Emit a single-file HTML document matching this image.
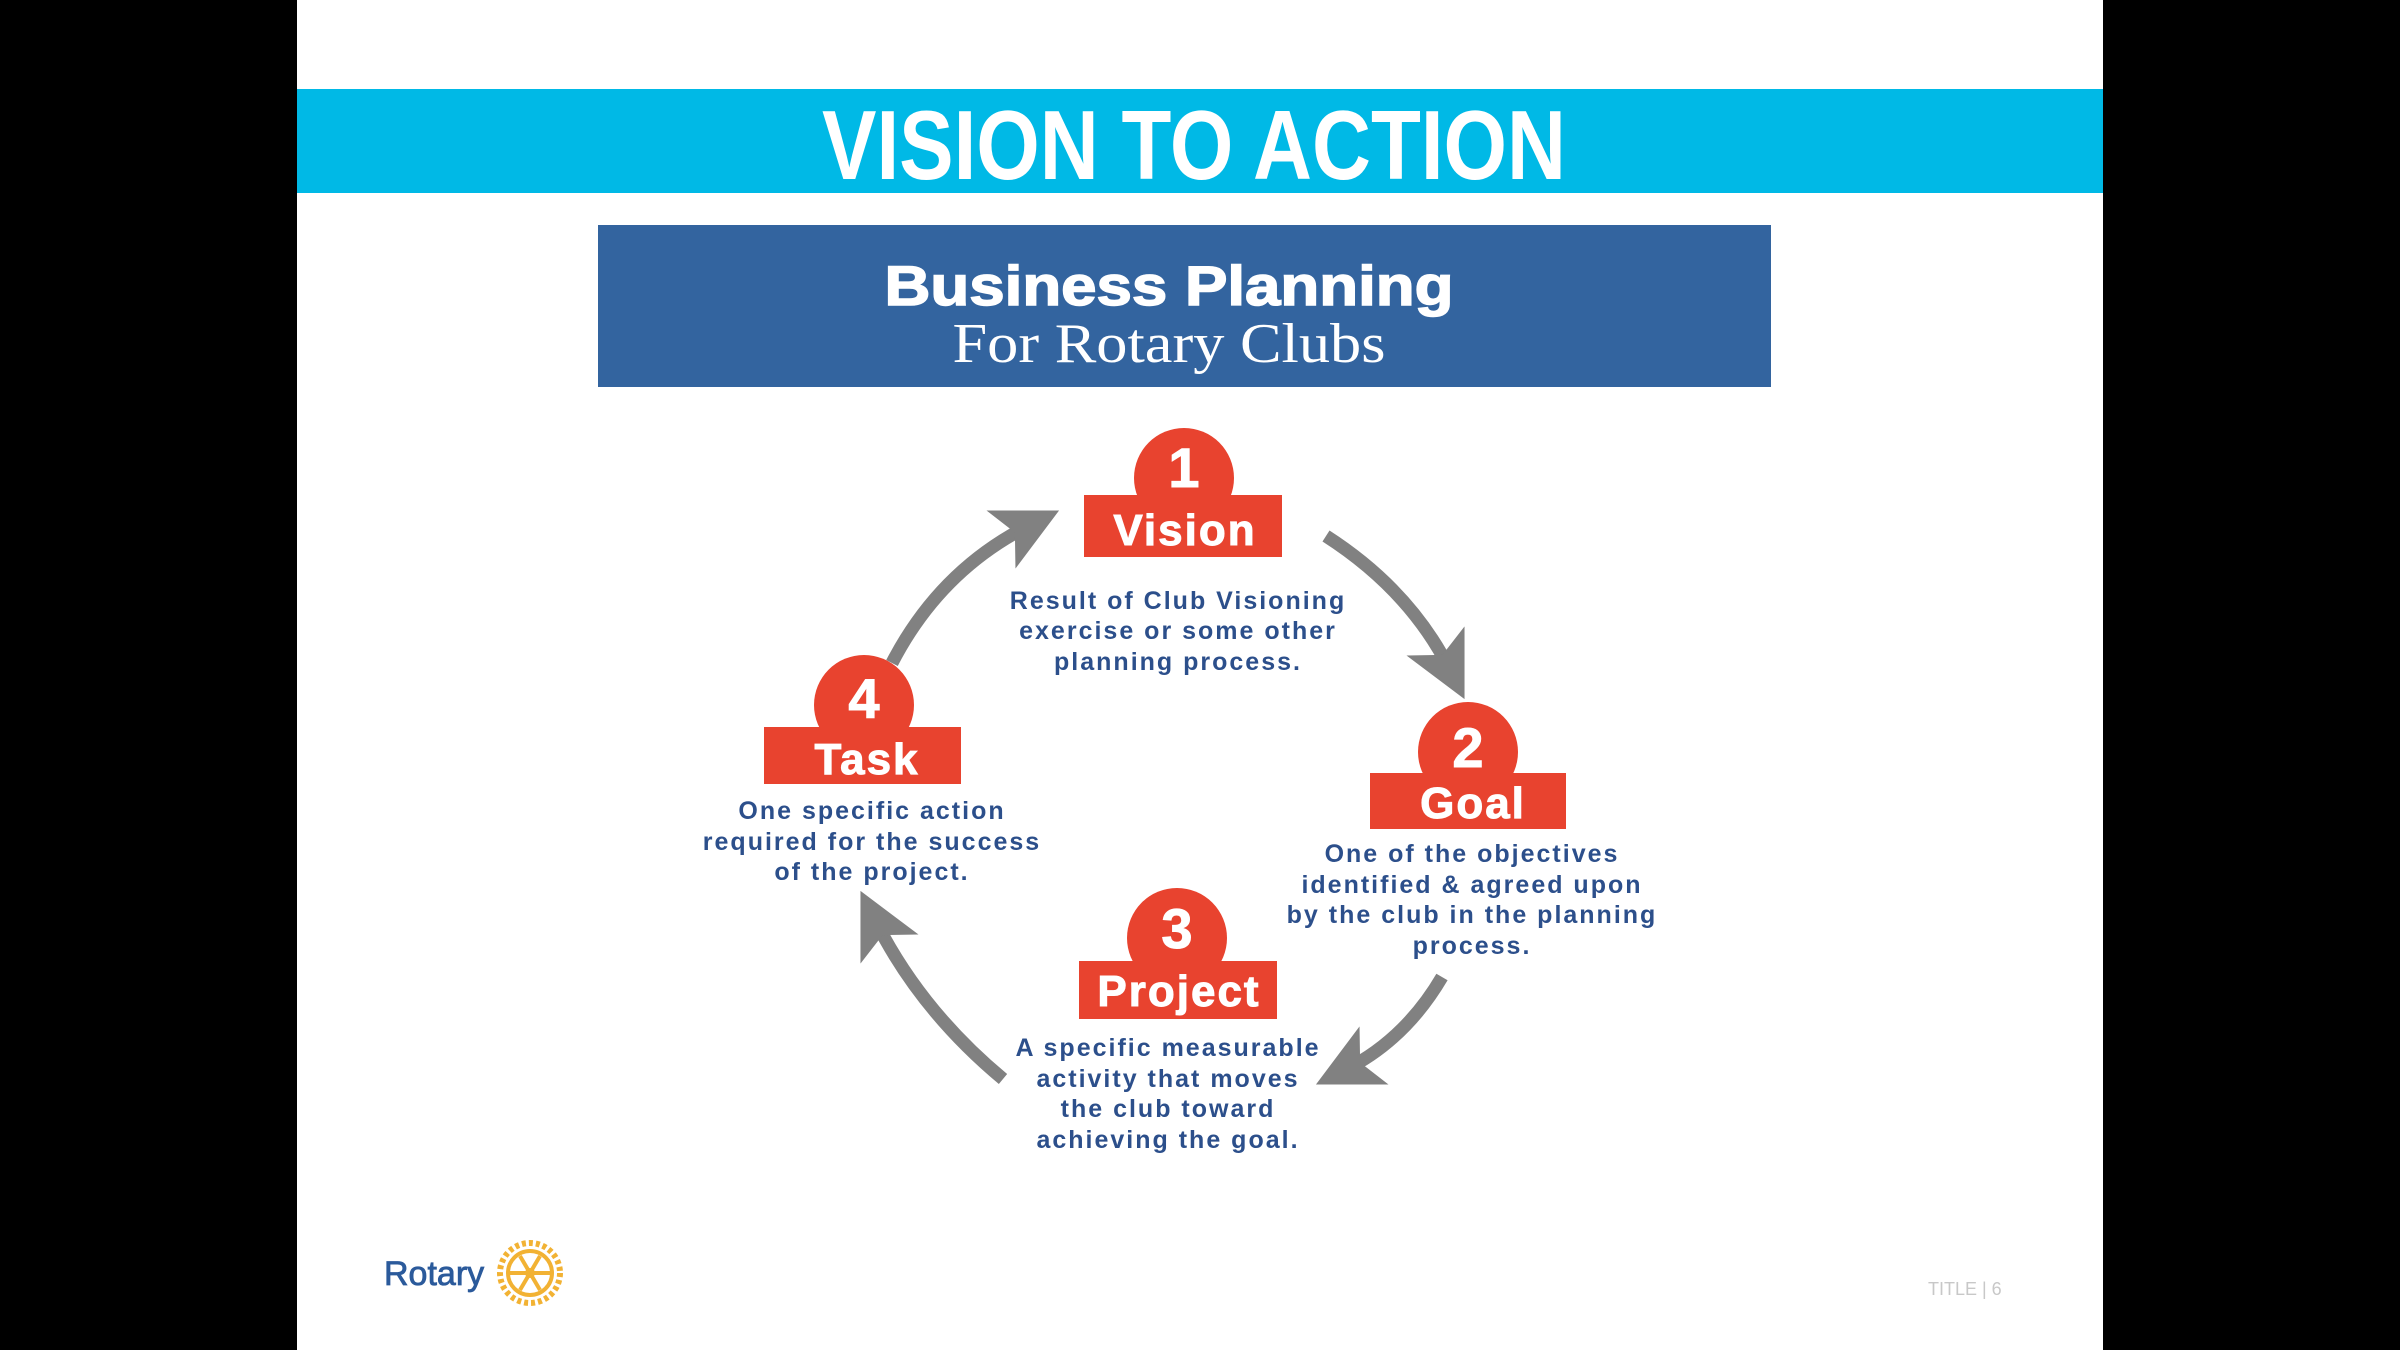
<!DOCTYPE html>
<html><head><meta charset="utf-8"><style>
html,body{margin:0;padding:0;width:2400px;height:1350px;overflow:hidden;background:#000}
svg{display:block}
</style></head><body>
<svg width="2400" height="1350" viewBox="0 0 2400 1350" xmlns="http://www.w3.org/2000/svg">
<rect x="297" y="0" width="1806" height="1350" fill="#fff"/>
<rect x="297" y="89" width="1806" height="104" fill="#00b9e6"/>
<text x="1194" y="179" text-anchor="middle" font-family="Liberation Sans Narrow, Liberation Sans, sans-serif" font-weight="bold" font-size="98" fill="#fff" textLength="744" lengthAdjust="spacingAndGlyphs">VISION TO ACTION</text>
<rect x="598" y="225" width="1173" height="162" fill="#33649f"/>
<text x="1169" y="305" text-anchor="middle" font-family="Liberation Sans, sans-serif" font-weight="bold" font-size="56" fill="#fff" textLength="569" lengthAdjust="spacingAndGlyphs" stroke="#fff" stroke-width="1.5">Business Planning</text>
<text x="1169" y="362" text-anchor="middle" font-family="Liberation Serif, serif" font-size="56" fill="#fff" textLength="433" lengthAdjust="spacingAndGlyphs">For Rotary Clubs</text>

<defs><marker id="ah" markerWidth="5" markerHeight="5" refX="2.5" refY="2.5" orient="auto" markerUnits="strokeWidth"><path d="M0,0 L5,2.5 L0,5 L1.2,2.5 Z" fill="#818181"/></marker></defs>
<g fill="none" stroke="#818181" stroke-width="13">
<path d="M1326,536 Q1410,590 1450,670" marker-end="url(#ah)"/>
<path d="M1442,977 Q1405,1040 1345,1070" marker-end="url(#ah)"/>
<path d="M1003,1079 Q920,1010 875,920" marker-end="url(#ah)"/>
<path d="M892,663 Q940,570 1030,525" marker-end="url(#ah)"/>
</g>

<g fill="#e8432f">
<circle cx="1184" cy="478" r="50"/><rect x="1084" y="495" width="198" height="62"/>
<circle cx="1468" cy="752" r="50"/><rect x="1370" y="773" width="196" height="56"/>
<circle cx="1177" cy="938" r="50"/><rect x="1079" y="961" width="198" height="58"/>
<circle cx="864" cy="705" r="50"/><rect x="764" y="727" width="197" height="57"/>
</g>
<g font-family="Liberation Sans, sans-serif" font-weight="bold" fill="#fff" text-anchor="middle" stroke="#fff" stroke-width="1">
<text x="1184" y="487" font-size="56">1</text><text x="1185" y="545" font-size="44" letter-spacing="2">Vision</text>
<text x="1468" y="767" font-size="56">2</text><text x="1473" y="818" font-size="44" letter-spacing="2">Goal</text>
<text x="1177" y="948" font-size="56">3</text><text x="1179" y="1006" font-size="44" letter-spacing="2">Project</text>
<text x="864" y="718" font-size="56">4</text><text x="867" y="774" font-size="44" letter-spacing="2">Task</text>
</g>
<g font-family="Liberation Sans, sans-serif" font-weight="bold" fill="#2c4f8b" text-anchor="middle" font-size="25" letter-spacing="2">
<text x="1178" y="609">Result of Club Visioning</text>
<text x="1178" y="639">exercise or some other</text>
<text x="1178" y="670">planning process.</text>
<text x="1472" y="862">One of the objectives</text>
<text x="1472" y="893">identified &amp; agreed upon</text>
<text x="1472" y="923">by the club in the planning</text>
<text x="1472" y="954">process.</text>
<text x="1168" y="1056">A specific measurable</text>
<text x="1168" y="1087">activity that moves</text>
<text x="1168" y="1117">the club toward</text>
<text x="1168" y="1148">achieving the goal.</text>
<text x="872" y="819">One specific action</text>
<text x="872" y="850">required for the success</text>
<text x="872" y="880">of the project.</text>
</g>

<text x="384" y="1285" font-family="Liberation Sans, sans-serif" font-size="34" fill="#2b5a9b" stroke="#2b5a9b" stroke-width="0.8">Rotary</text>
<g transform="translate(530,1273)" fill="none" stroke="#f2b233">
<circle r="30" stroke-width="6" stroke-dasharray="4 3"/>
<circle r="22" stroke-width="4"/>
<circle r="5" fill="#f2b233" stroke="none"/>
<g stroke-width="4"><line x1="-20" y1="0" x2="20" y2="0"/><line x1="-10" y1="-17" x2="10" y2="17"/><line x1="10" y1="-17" x2="-10" y2="17"/></g>
</g>
<text x="1928" y="1295" font-family="Liberation Sans, sans-serif" font-size="18" fill="#c8c8c8">TITLE | 6</text>
</svg>
</body></html>
